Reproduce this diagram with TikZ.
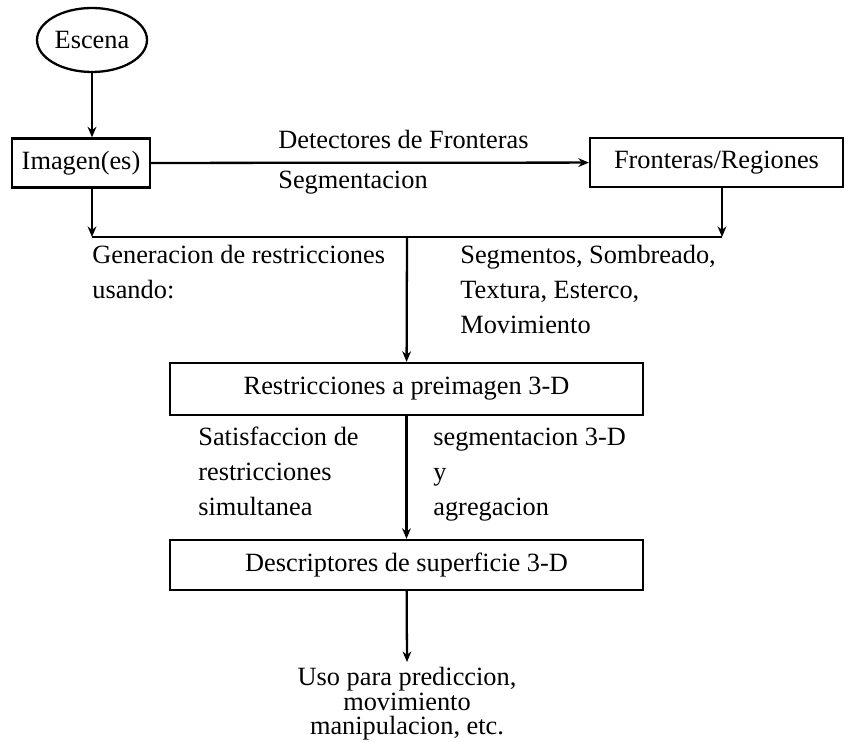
\documentclass[tikz,border=0pt]{standalone}
\usepackage{fontspec}
\setmainfont{Liberation Serif}
\usetikzlibrary{shapes.geometric,arrows.meta}

\tikzset{
  caja/.style={draw=black,line width=1.3pt,inner sep=0pt,minimum height=0.98cm},
  texto/.style={anchor=base west,inner sep=0pt},
  flecha/.style={-{Stealth[length=6pt,width=5pt]},line width=1.3pt},
  linea/.style={line width=1.3pt}
}

\begin{document}
\begin{tikzpicture}[x=0.02cm,y=-0.02cm,font=\fontsize{15}{17}\selectfont]
            \useasboundingbox (0,0) rectangle (845,742);

            \node[shape=ellipse,draw=black,line width=1.3pt,minimum width=2.2cm,minimum height=1.28cm,inner sep=0pt] (esc) at (92,40) {Escena};

            \node[caja,minimum width=2.76cm] (img) at (81,163) {Imagen(es)};
            \node[caja,minimum width=5.06cm] (fr) at (716.5,162.5) {Fronteras/Regiones};
            \node[caja,minimum width=9.46cm,minimum height=1.04cm] (rest) at (406.5,389) {Restricciones a preimagen 3-D};
            \node[caja,minimum width=9.46cm,minimum height=1.0cm] (desc) at (406.5,565) {Descriptores de superficie 3-D};

            \coordinate (jl) at (92,237);
            \coordinate (jm) at (407,237);
            \coordinate (jr) at (722,237);
            \coordinate (fin) at (407,662);

            \node[texto] (det) at (278,149) {Detectores de Fronteras};
            \node[texto] (seg) at (278,189) {Segmentacion};

            \node[texto] (gen1) at (92,264) {Generacion de restricciones};
            \node[texto] (gen2) at (92,299) {usando:};
            \node[texto] (som1) at (460,264) {Segmentos, Sombreado,};
            \node[texto] (som2) at (460,299) {Textura, Esterco,};
            \node[texto] (som3) at (460,334) {Movimiento};

            \node[texto] (sat1) at (198,446) {Satisfaccion de};
            \node[texto] (sat2) at (198,481) {restricciones};
            \node[texto] (sat3) at (198,516) {simultanea};
            \node[texto] (agr1) at (433,446) {segmentacion 3-D};
            \node[texto] (agr2) at (433,481) {y};
            \node[texto] (agr3) at (433,516) {agregacion};

            \node[align=center,anchor=north,inner sep=0pt,font=\fontsize{15}{14}\selectfont] (uso) at (407,667) {Uso para prediccion,\\movimiento\\manipulacion, etc.};

            \draw[flecha] (esc) -- (esc |- img.north);
            \draw[flecha] (img) -- (fr);
            \draw[flecha] (img.south -| jl) -- (jl);
            \draw[flecha] (fr.south -| jr) -- (jr);
            \draw[linea] (jl) -- (jr);
            \draw[flecha] (jm) -- (rest);
            \draw[flecha] (rest) -- (desc);
            \draw[flecha] (desc) -- (fin);
        \end{tikzpicture}
\end{document}
